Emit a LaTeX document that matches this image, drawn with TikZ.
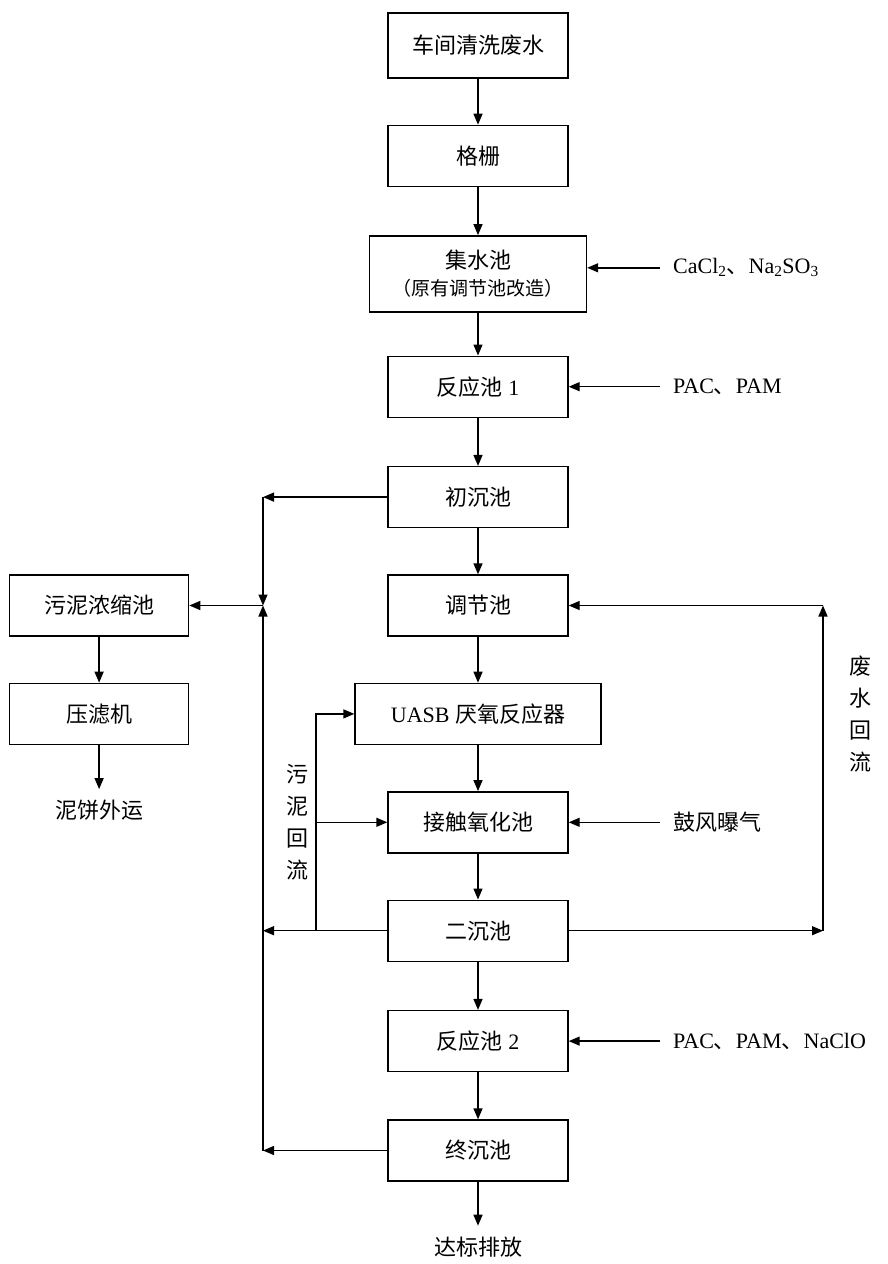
\documentclass[tikz,border=0pt]{standalone}
\usepackage{fontspec}
\setmainfont{Liberation Serif}
\newfontfamily\cjk{Noto Sans CJK SC}
\usetikzlibrary{arrows.meta, positioning}
\newcommand{\zh}[1]{{\cjk #1}}
\newcommand{\boxfont}{\fontsize{22}{26}\selectfont}
\newcommand{\sidefont}{\fontsize{22}{32}\selectfont\cjk}
\tikzset{
    procbox/.style = {rectangle, draw=black, line width=1.4pt, minimum width=180pt, minimum height=61pt, text centered, font=\boxfont},
    endlabel/.style = {inner xsep=2pt, inner ysep=11pt, font=\boxfont},
    dose/.style = {anchor=west, inner xsep=13pt, inner ysep=2pt, font=\boxfont},
    sidelabel/.style = {align=center, inner sep=0pt, font=\sidefont},
    arrow/.style = {line width=1.4pt, -{Triangle[length=11pt, width=9pt]}}
}
\begin{document}
\begin{tikzpicture}[x=1pt, y=-1pt, node distance=46pt]
\useasboundingbox (0,0) rectangle (887,1264);

% main line
\node (wastewater) [procbox, minimum height=65pt] at (478,45.5) {\zh{车间清洗废水}};
\node (grille) [procbox, below=of wastewater] {\zh{格栅}};
\node (collect) [procbox, below=48pt of grille, minimum width=217pt, minimum height=76pt, align=center] {\zh{集水池}\\[1pt]{\fontsize{19}{22}\selectfont\zh{（原有调节池改造）}}};
\node (react1) [procbox, below=43pt of collect] {\zh{反应池} 1};
\node (primary) [procbox, below=48pt of react1] {\zh{初沉池}};
\node (regulate) [procbox, below=of primary] {\zh{调节池}};
\node (uasb) [procbox, below=of regulate, minimum width=246pt] {UASB \zh{厌氧反应器}};
\node (contact) [procbox, below=of uasb] {\zh{接触氧化池}};
\node (secondary) [procbox, below=of contact] {\zh{二沉池}};
\node (react2) [procbox, below=48pt of secondary] {\zh{反应池} 2};
\node (final) [procbox, below=47pt of react2] {\zh{终沉池}};
\node (discharge) [endlabel, below=44pt of final] {\zh{达标排放}};

% sludge line
\node (thicken) [procbox, left=198pt of regulate, minimum width=179pt] {\zh{污泥浓缩池}};
\node (press) [procbox, below=of thicken, minimum width=179pt] {\zh{压滤机}};
\node (cake) [endlabel, below=44pt of press] {\zh{泥饼外运}};

% dosing
\coordinate (dosecol) at (660,0);
\node (dose1) [dose] at ([yshift=6pt]collect.center -| dosecol) {CaCl\textsubscript{2}\zh{、}Na\textsubscript{2}SO\textsubscript{3}};
\node (dose2) [dose] at (react1 -| dosecol) {PAC\zh{、}PAM};
\node (air) [dose] at (contact -| dosecol) {\zh{鼓风曝气}};
\node (dose3) [dose] at (react2 -| dosecol) {PAC\zh{、}PAM\zh{、}NaClO};

% return labels
\node (sludgeret) [sidelabel] at (contact -| 297,0) {污\\泥\\回\\流};
\node (waterret) [sidelabel] at (uasb -| 860,0) {废\\水\\回\\流};

% junction points
\coordinate (sjtop) at (primary -| 263,0);
\coordinate (sjmid) at (thicken -| sjtop);
\coordinate (sjsec) at (secondary -| sjtop);
\coordinate (sjbot) at (final -| sjtop);
\coordinate (rfbot) at (secondary -| 316,0);
\coordinate (rfmid) at (contact -| rfbot);
\coordinate (wrbot) at (secondary -| 823,0);
\coordinate (wrtop) at (regulate -| wrbot);

\draw [arrow] (wastewater) -- (grille);
\draw [arrow] (grille) -- (collect);
\draw [arrow] (collect) -- (react1);
\draw [arrow] (react1) -- (primary);
\draw [arrow] (primary) -- (regulate);
\draw [arrow] (regulate) -- (uasb);
\draw [arrow] (uasb) -- (contact);
\draw [arrow] (contact) -- (secondary);
\draw [arrow] (secondary) -- (react2);
\draw [arrow] (react2) -- (final);
\draw [arrow] (final) -- (discharge);

\draw [arrow] (thicken) -- (press);
\draw [arrow] (press) -- (cake);

\draw [arrow] (dose1.west) -- (dose1.west -| collect.east);
\draw [arrow] (dose2) -- (react1);
\draw [arrow] (air) -- (contact);
\draw [arrow] (dose3) -- (react2);

% sludge collection
\draw [arrow] (primary) -- (sjtop);
\draw [arrow] (sjtop) -- (sjmid);
\draw [arrow] (sjbot) -- (sjmid);
\draw [arrow] (sjmid) -- (thicken);
\draw [arrow] (secondary) -- (sjsec);
\draw [arrow] (final) -- (sjbot);

% returns
\draw [arrow] (rfbot) |- (uasb);
\draw [arrow] (rfmid) -- (contact);
\draw [arrow] (secondary) -- (wrbot);
\draw [arrow] (wrbot) -- (wrtop);
\draw [arrow] (wrtop) -- (regulate);
\end{tikzpicture}
\end{document}
